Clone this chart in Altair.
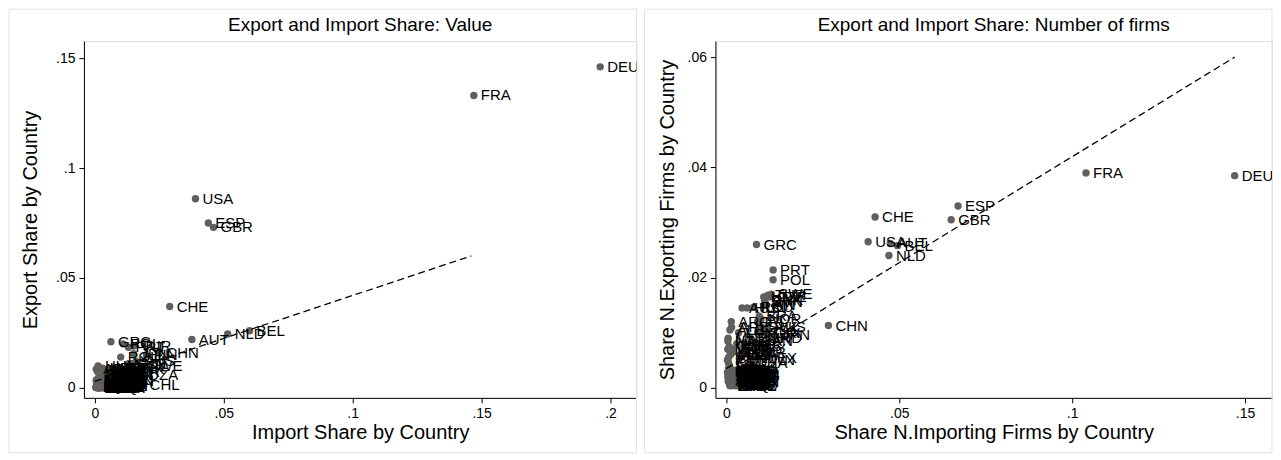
import altair as alt
import pandas as pd

FONT = "Liberation Sans"

# ---------------- data ----------------
countries = [
    "DEU", "FRA", "USA", "ESP", "GBR", "CHE", "AUT", "NLD", "BEL", "GRC",
    "POL", "PRT", "TUR", "CHN", "JPN", "FIN", "SWE", "CZE", "HUN", "ROU",
    "DNK", "KOR", "DZA", "CHL", "RUS", "IND", "ARG", "AUS", "BRA", "NOR",
    "IRL", "SVN", "HRV", "SVK", "TUN", "MEX", "CAN", "LUX", "ISR", "EGY",
    "BGR", "SRB", "UKR", "ZAF", "TWN", "HKG", "SGP", "THA", "ARE", "SAU",
    "ALB", "BIH", "BLR", "CYP", "EST", "LVA", "LTU", "MLT", "MAR", "MKD",
    "MDA", "MNE", "ISL", "LBN", "LBY", "IRN", "IRQ", "JOR", "KWT", "QAT",
    "OMN", "PAK", "BGD", "LKA", "VNM", "MYS", "IDN", "PHL", "NZL", "NGA",
    "KEN", "ETH", "SEN", "CIV", "GHA", "CMR", "AGO", "COL", "PER", "VEN",
    "ECU", "URY", "CUB", "DOM", "PAN",
    "AFG", "BHR", "BOL", "BRN", "KHM", "KGZ", "LAO", "MNG", "MMR", "NPL",
    "SYR", "TJK", "TKM", "YEM", "SDN", "TZA", "UGA", "ZMB", "ZWE", "MOZ",
    "MDG", "MUS", "NAM", "BWA", "GAB", "COG", "COD", "MLI", "NER", "BFA",
    "TGO", "BEN", "GIN", "MRT", "HTI", "JAM", "TTO", "HND", "NIC", "SLV",
]

# Panel 1: share of import / export value
value_import_share = [
    0.196, 0.147, 0.039, 0.044, 0.046, 0.029, 0.0376, 0.0515, 0.060, 0.0062,
    0.0110, 0.0130, 0.0150, 0.0250, 0.0150, 0.0200, 0.0180, 0.0140, 0.0012, 0.0100,
    0.0120, 0.0100, 0.0180, 0.0185, 0.0160, 0.0090, 0.0040, 0.0050, 0.0070, 0.0030,
    0.0060, 0.0130, 0.0030, 0.0060, 0.0080, 0.0040, 0.0050, 0.0020, 0.0035, 0.0070,
    0.0045, 0.0040, 0.0060, 0.0050, 0.0070, 0.0010, 0.0015, 0.0060, 0.0005, 0.0080,
    0.0030, 0.0025, 0.0020, 0.0010, 0.0008, 0.0012, 0.0020, 0.0005, 0.0040, 0.0015,
    0.0010, 0.0005, 0.0003, 0.0006, 0.0045, 0.0030, 0.0035, 0.0008, 0.0025, 0.0030,
    0.0018, 0.0028, 0.0040, 0.0022, 0.0050, 0.0045, 0.0050, 0.0035, 0.0015, 0.0038,
    0.0010, 0.0015, 0.0012, 0.0025, 0.0020, 0.0018, 0.0030, 0.0040, 0.0035, 0.0028,
    0.0032, 0.0022, 0.0008, 0.0012, 0.0042,
    0.0010, 0.0020, 0.0015, 0.0008, 0.0030, 0.0012, 0.0018, 0.0009, 0.0025, 0.0014,
    0.0035, 0.0011, 0.0028, 0.0020, 0.0016, 0.0022, 0.0013, 0.0032, 0.0017, 0.0027,
    0.0019, 0.0024, 0.0029, 0.0036, 0.0040, 0.0044, 0.0021, 0.0009, 0.0026, 0.0033,
    0.0012, 0.0038, 0.0041, 0.0046, 0.0010, 0.0023, 0.0037, 0.0031, 0.0048, 0.0016,
]
value_export_share = [
    0.146, 0.133, 0.086, 0.075, 0.073, 0.037, 0.022, 0.0245, 0.026, 0.021,
    0.0200, 0.0185, 0.0190, 0.0160, 0.0155, 0.0150, 0.0100, 0.0110, 0.0100, 0.0140,
    0.0085, 0.0070, 0.0060, 0.0012, 0.0120, 0.0090, 0.0050, 0.0080, 0.0090, 0.0060,
    0.0060, 0.0110, 0.0090, 0.0070, 0.0060, 0.0070, 0.0065, 0.0055, 0.0050, 0.0045,
    0.0055, 0.0045, 0.0040, 0.0035, 0.0030, 0.0075, 0.0065, 0.0025, 0.0085, 0.0035,
    0.0030, 0.0020, 0.0008, 0.0040, 0.0010, 0.0009, 0.0025, 0.0035, 0.0030, 0.0006,
    0.0004, 0.0003, 0.0002, 0.0022, 0.0010, 0.0012, 0.0005, 0.0015, 0.0007, 0.0009,
    0.0005, 0.0006, 0.0003, 0.0004, 0.0008, 0.0012, 0.0010, 0.0004, 0.0012, 0.0006,
    0.0003, 0.0002, 0.0005, 0.0002, 0.0003, 0.0002, 0.0003, 0.0008, 0.0010, 0.0011,
    0.0002, 0.0010, 0.0006, 0.0002, 0.0004,
    0.0002, 0.0006, 0.0003, 0.0001, 0.0004, 0.0001, 0.0002, 0.0002, 0.0003, 0.0001,
    0.0007, 0.0001, 0.0004, 0.0002, 0.0004, 0.0003, 0.0002, 0.0003, 0.0002, 0.0005,
    0.0003, 0.0005, 0.0002, 0.0001, 0.0004, 0.0006, 0.0001, 0.0003, 0.0001, 0.0002,
    0.0004, 0.0003, 0.0002, 0.0005, 0.0005, 0.0007, 0.0009, 0.0006, 0.0003, 0.0007,
]

# Panel 2: share of number of importing / exporting firms
firms_import_share = [
    0.147, 0.104, 0.041, 0.067, 0.065, 0.043, 0.0474, 0.0470, 0.0495, 0.0087,
    0.0135, 0.0135, 0.0120, 0.0295, 0.0140, 0.0110, 0.0130, 0.0125, 0.0060, 0.0078,
    0.0110, 0.0090, 0.0040, 0.0030, 0.0118, 0.0124, 0.0014, 0.0045, 0.0095, 0.0100,
    0.0090, 0.0112, 0.0108, 0.0100, 0.0105, 0.0090, 0.0080, 0.0035, 0.0055, 0.0060,
    0.0070, 0.0050, 0.0060, 0.0045, 0.0080, 0.0030, 0.0020, 0.0070, 0.0015, 0.0020,
    0.0010, 0.0015, 0.0020, 0.0008, 0.0006, 0.0009, 0.0011, 0.0005, 0.0012, 0.0004,
    0.0025, 0.0008, 0.0003, 0.0006, 0.0030, 0.0035, 0.0028, 0.0018, 0.0022, 0.0016,
    0.0032, 0.0026, 0.0036, 0.0012, 0.0038, 0.0030, 0.0034, 0.0024, 0.0004, 0.0020,
    0.0014, 0.0010, 0.0018, 0.0022, 0.0016, 0.0028, 0.0032, 0.0026, 0.0030, 0.0006,
    0.0034, 0.0008, 0.0012, 0.0020, 0.0036,
    0.0005, 0.0010, 0.0015, 0.0020, 0.0025, 0.0030, 0.0035, 0.0007, 0.0012, 0.0017,
    0.0022, 0.0027, 0.0032, 0.0037, 0.0004, 0.0009, 0.0014, 0.0019, 0.0024, 0.0029,
    0.0034, 0.0006, 0.0011, 0.0016, 0.0021, 0.0026, 0.0031, 0.0036, 0.0008, 0.0013,
    0.0018, 0.0023, 0.0028, 0.0033, 0.0003, 0.0010, 0.0015, 0.0025, 0.0030, 0.0035,
]
firms_export_share = [
    0.0385, 0.0390, 0.0265, 0.0330, 0.0305, 0.0310, 0.0262, 0.0240, 0.0258, 0.0260,
    0.0196, 0.0214, 0.0168, 0.0113, 0.0095, 0.0150, 0.0170, 0.0165, 0.0145, 0.0146,
    0.0160, 0.0100, 0.0060, 0.0030, 0.0110, 0.0090, 0.0120, 0.0145, 0.0130, 0.0125,
    0.0120, 0.0155, 0.0165, 0.0110, 0.0100, 0.0055, 0.0085, 0.0100, 0.0080, 0.0070,
    0.0090, 0.0075, 0.0065, 0.0060, 0.0050, 0.0080, 0.0070, 0.0045, 0.0110, 0.0065,
    0.0105, 0.0030, 0.0015, 0.0075, 0.0045, 0.0040, 0.0065, 0.0090, 0.0060, 0.0070,
    0.0012, 0.0010, 0.0050, 0.0035, 0.0008, 0.0020, 0.0006, 0.0025, 0.0018, 0.0022,
    0.0010, 0.0028, 0.0014, 0.0016, 0.0024, 0.0030, 0.0032, 0.0008, 0.0085, 0.0005,
    0.0006, 0.0004, 0.0009, 0.0004, 0.0012, 0.0016, 0.0004, 0.0020, 0.0026, 0.0055,
    0.0018, 0.0028, 0.0022, 0.0032, 0.0008,
    0.0012, 0.0030, 0.0008, 0.0020, 0.0014, 0.0024, 0.0006, 0.0026, 0.0018, 0.0032,
    0.0026, 0.0010, 0.0016, 0.0028, 0.0020, 0.0006, 0.0024, 0.0012, 0.0030, 0.0004,
    0.0022, 0.0016, 0.0010, 0.0028, 0.0016, 0.0022, 0.0030, 0.0012, 0.0032, 0.0004,
    0.0018, 0.0008, 0.0032, 0.0026, 0.0028, 0.0014, 0.0020, 0.0026, 0.0012, 0.0034,
]

# dashed fitted lines (end points)
value_line_x = [0.0, 0.146]
value_line_y = [0.003, 0.060]
firms_line_x = [0.0, 0.147]
firms_line_y = [0.0035, 0.060]

value_xticks = [0, 0.05, 0.1, 0.15, 0.2]
value_yticks = [0, 0.05, 0.1, 0.15]
firms_xticks = [0, 0.05, 0.1, 0.15]
firms_yticks = [0, 0.02, 0.04, 0.06]

LABEL_EXPR = "replace(toString(datum.value), '0.', '.')"


def panel(df, line_df, xdom, ydom, xticks, yticks, title, xtitle, ytitle,
          W, H, left_ext, ytitle_x, bottom_ext):
    xs = alt.Scale(domain=xdom, nice=False, zero=False)
    ys = alt.Scale(domain=ydom, nice=False, zero=False)
    common = dict(labelFont=FONT, labelFontSize=14, labelColor="black",
                  titleFont=FONT, titleFontSize=20, titleFontWeight="normal",
                  titleColor="black", tickSize=5, tickColor="black",
                  domainColor="black", grid=False, labelPadding=4,
                  labelFlush=False, labelOverlap=False, labelExpr=LABEL_EXPR,
                  titleBaseline="middle", titleAlign="center")
    xaxis = alt.Axis(values=xticks, title=xtitle, titleX=W / 2, titleY=35, **common)
    yaxis = alt.Axis(values=yticks, title=ytitle, titleX=ytitle_x, titleY=H / 2,
                     titleAngle=270, labelAngle=0, **common)

    base = alt.Chart(df)
    x = alt.X("x:Q", scale=xs, axis=xaxis)
    y = alt.Y("y:Q", scale=ys, axis=yaxis)
    pts = base.mark_circle(size=55, color="#5f5f5f", opacity=1, clip=True).encode(x=x, y=y)
    labels = base.mark_text(align="left", baseline="middle", dx=7, fontSize=15,
                            font=FONT, color="black", clip=True).encode(
        x=alt.X("x:Q", scale=xs), y=alt.Y("y:Q", scale=ys), text="country:N")
    line = alt.Chart(line_df).mark_line(strokeDash=[7, 4], color="black",
                                        strokeWidth=1.3, clip=True).encode(
        x=alt.X("x:Q", scale=xs), y=alt.Y("y:Q", scale=ys))
    one = pd.DataFrame({"k": [0]})
    ttl = alt.Chart(one).mark_text(font=FONT, fontSize=19, color="black",
                                   baseline="middle", align="center").encode(
        x=alt.value(W / 2), y=alt.value(-16), text=alt.value(title))
    border = alt.Chart(one).mark_rect(fillOpacity=0, stroke="#e2e2e2",
                                      strokeWidth=1).encode(
        x=alt.value(-left_ext), x2=alt.value(W), y=alt.value(-32),
        y2=alt.value(H + bottom_ext))
    return alt.layer(border, pts, labels, line, ttl).properties(width=W, height=H)


df_value = pd.DataFrame({"country": countries, "x": value_import_share,
                         "y": value_export_share})
df_firms = pd.DataFrame({"country": countries, "x": firms_import_share,
                         "y": firms_export_share})
line_value = pd.DataFrame({"x": value_line_x, "y": value_line_y})
line_firms = pd.DataFrame({"x": firms_line_x, "y": firms_line_y})

left = panel(df_value, line_value, [-0.00426, 0.2101], [-0.004545, 0.1577],
             value_xticks, value_yticks, "Export and Import Share: Value",
             "Import Share by Country", "Export Share by Country",
             553, 357, 75, -53, 55)
right = panel(df_firms, line_firms, [-0.00318, 0.1578], [-0.00182, 0.0629],
              firms_xticks, firms_yticks, "Export and Import Share: Number of firms",
              "Share N.Importing Firms by Country", "Share N.Exporting Firms by Country",
              557, 357, 71, -48, 55)

chart = alt.ConcatChart(concat=[left, right], columns=2, align="none", spacing=6).properties(
    padding=0
).configure_view(stroke=None).configure(background="white")

chart.save("out.html", embed_options={"renderer": "svg", "actions": False})
